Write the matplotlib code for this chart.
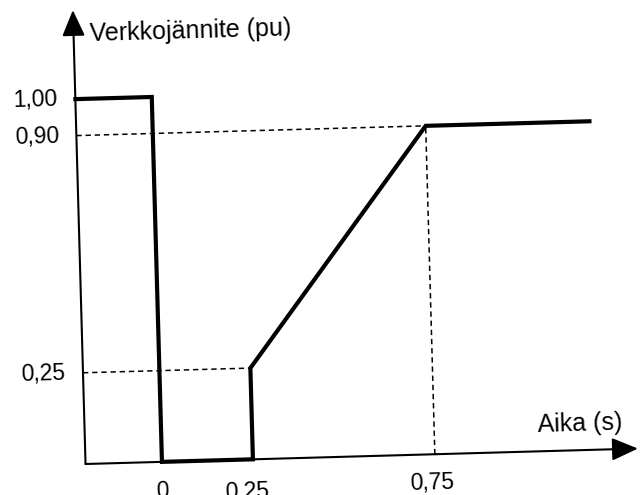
import matplotlib
matplotlib.use("Agg")
import matplotlib.pyplot as plt
from matplotlib.patches import FancyArrowPatch
from matplotlib.transforms import Affine2D

plt.rcParams["font.family"] = ["Liberation Sans", "DejaVu Sans"]

# voltage profile (time in s, voltage in pu)
t_points = [-0.21, 0.0, 0.0, 0.25, 0.25, 0.75, 1.2]
v_points = [1.0, 1.0, 0.0, 0.0, 0.25, 0.9, 0.9]

y_ticks = [1.0, 0.9, 0.25]
y_labels = ["1,00", "0,90", "0,25"]
x_ticks = [0.0, 0.232, 0.741]
x_labels = ["0", "0,25", "0,75"]
x_label_y = [-0.048, -0.058, -0.046]

t_axis = -0.21
t_end = 1.308
v_top = 1.244

fig = plt.figure(figsize=(6.42, 4.95), dpi=100)
ax = fig.add_axes([0, 0, 1, 1])
ax.set_xlim(-0.445, 1.3187)
ax.set_ylim(-0.0849, 1.2712)
ax.axis("off")

# the scan is turned a little, so everything is drawn through a small rotation
rot = Affine2D().rotate_deg_around(85, 31, 1.6)
tr = ax.transData + rot
ang = 1.6

# axes with arrows
for start, end in [((t_axis, 0), (t_end, 0)), ((t_axis, 0), (t_axis, v_top))]:
    arr = FancyArrowPatch(start, end, arrowstyle="-|>,head_length=0.8,head_width=0.35",
                          mutation_scale=20, lw=1.5, color="black",
                          shrinkA=0, shrinkB=0, transform=tr)
    ax.add_patch(arr)

# dashed guides
dash = dict(color="black", lw=1.1, dashes=(3.5, 2.5), transform=tr)
ax.plot([t_axis, 0.75], [0.9, 0.9], **dash)
ax.plot([t_axis, 0.25], [0.25, 0.25], **dash)
ax.plot([0.75, 0.75], [0.0, 0.9], **dash)

# voltage curve
ax.plot(t_points, v_points, color="black", lw=3, solid_joinstyle="miter",
        transform=tr)

for v, lab in zip(y_ticks, y_labels):
    ax.text(t_axis - 0.048, v, lab, ha="right", va="center", fontsize=16.5,
            rotation=ang, rotation_mode="anchor", transform=tr)

for t, y, lab in zip(x_ticks, x_label_y, x_labels):
    ax.text(t, y, lab, ha="center", va="top", fontsize=16.5,
            rotation=ang, rotation_mode="anchor", transform=tr)

ax.text(-0.165, 1.177, "Verkkojännite (pu)", ha="left", va="center", fontsize=18,
        rotation=ang, rotation_mode="anchor", transform=tr)
ax.text(1.267, 0.071, "Aika (s)", ha="right", va="center", fontsize=18,
        rotation=ang, rotation_mode="anchor", transform=tr)

fig.savefig("out.png", dpi=100)
plt.close(fig)
